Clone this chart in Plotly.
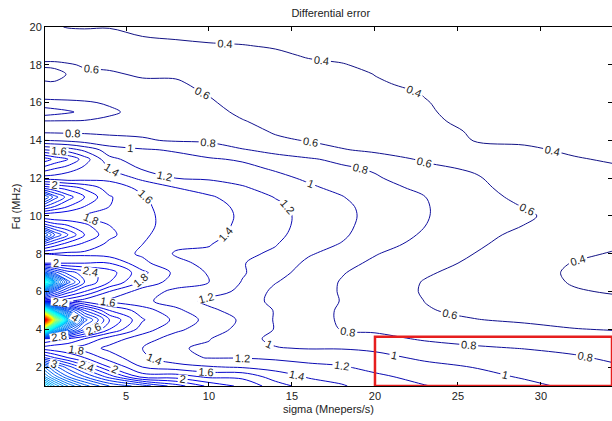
import plotly.graph_objects as go

# sigma (Mnepers/s) grid columns and Fd (MHz) grid rows
sigma = [0.1, 0.7, 1.5, 2.5, 4, 6, 8, 10, 12, 14, 16, 18, 20, 23, 26, 29, 32, 35]
fd = [1.0, 1.5, 2.0, 2.5, 3.0, 3.5, 4.0, 4.5, 5.0, 5.5, 6.0, 6.5, 7.0, 7.5, 8.0, 8.5,
      9.0, 9.5, 10.0, 10.5, 11.0, 11.5, 12.0, 12.5, 13.0, 13.5, 14.0, 14.5, 15.0,
      15.5, 16.0, 16.5, 17.0, 17.5, 18.0, 18.5, 19.0, 19.5, 20.0]

# differential error, one list per sigma column (Fd from 1 to 20)
err_s0_1 = [5.5, 4.4, 3.8, 2.6, 1.9, 2.4, 7.5, 15.0, 7.0, 2.0, 3.7, 6.8, 3.5, 2.0, 1.8, 2.5, 3.6, 2.5, 1.8, 2.6,
            3.4, 2.3, 1.5, 1.9, 2.3, 1.6, 1.0, 0.75, 0.78, 1.12, 0.86, 0.69, 0.62, 0.55, 0.62, 0.56, 0.5, 0.46, 0.42]
err_s0_7 = [4.8, 3.9, 3.3, 2.4, 1.85, 2.3, 5.0, 9.0, 4.8, 1.95, 3.0, 4.6, 3.1, 2.0, 1.78, 2.3, 3.0, 2.3, 1.8, 2.4,
            2.9, 2.2, 1.5, 1.8, 2.15, 1.55, 0.98, 0.75, 0.78, 1.08, 0.85, 0.69, 0.61, 0.57, 0.62, 0.56, 0.5, 0.45, 0.41]
err_s1_5 = [4.2, 3.4, 2.9, 2.2, 1.8, 2.2, 3.6, 5.0, 3.4, 1.85, 2.5, 3.3, 2.7, 2.0, 1.75, 2.1, 2.6, 2.2, 1.8, 2.2,
            2.5, 2.1, 1.45, 1.7, 2.0, 1.5, 0.95, 0.75, 0.78, 1.03, 0.84, 0.69, 0.62, 0.605, 0.61, 0.55, 0.49, 0.44, 0.395]
err_s2_5 = [3.7, 3.0, 2.5, 2.0, 1.7, 2.0, 2.8, 3.3, 2.6, 1.7, 2.2, 2.6, 2.5, 2.0, 1.75, 1.95, 2.2, 2.05, 1.8, 2.0,
            2.2, 1.95, 1.5, 1.55, 1.7, 1.35, 0.9, 0.76, 0.78, 0.95, 0.82, 0.7, 0.64, 0.62, 0.59, 0.54, 0.49, 0.44, 0.39]
err_s4 = [3.2, 2.5, 2.0, 1.7, 1.55, 1.7, 2.2, 2.4, 2.0, 1.55, 1.8, 2.2, 2.3, 2.0, 1.7, 1.75, 1.85, 1.8, 1.75, 1.8,
          1.82, 1.7, 1.55, 1.4, 1.25, 1.1, 0.85, 0.76, 0.76, 0.83, 0.78, 0.7, 0.66, 0.62, 0.57, 0.52, 0.47, 0.43, 0.395]
err_s6 = [2.9, 1.9, 1.6, 1.45, 1.4, 1.5, 1.7, 1.82, 1.7, 1.45, 1.5, 1.75, 1.85, 1.65, 1.57, 1.6, 1.63, 1.65, 1.65, 1.64,
          1.62, 1.55, 1.35, 1.18, 1.1, 1.02, 0.82, 0.76, 0.73, 0.74, 0.72, 0.68, 0.63, 0.58, 0.53, 0.48, 0.44, 0.4, 0.37]
err_s8 = [2.5, 1.9, 1.5, 1.25, 1.22, 1.3, 1.45, 1.55, 1.45, 1.3, 1.35, 1.5, 1.55, 1.45, 1.38, 1.44, 1.5, 1.52, 1.52, 1.5,
          1.47, 1.4, 1.2, 1.12, 1.06, 0.98, 0.78, 0.74, 0.71, 0.68, 0.66, 0.64, 0.62, 0.58, 0.52, 0.47, 0.42, 0.39, 0.37]
err_s10 = [2.15, 1.75, 1.42, 1.19, 1.17, 1.21, 1.28, 1.33, 1.24, 1.15, 1.28, 1.4, 1.38, 1.35, 1.37, 1.41, 1.44, 1.46, 1.46, 1.45,
           1.42, 1.33, 1.17, 1.08, 1.02, 0.9, 0.77, 0.72, 0.69, 0.65, 0.62, 0.59, 0.56, 0.52, 0.48, 0.44, 0.41, 0.38, 0.36]
err_s12 = [1.95, 1.75, 1.38, 1.19, 1.05, 1.06, 1.15, 1.17, 1.12, 1.08, 1.16, 1.19, 1.22, 1.21, 1.24, 1.3, 1.36, 1.37, 1.38, 1.37,
           1.33, 1.22, 1.13, 1.05, 0.98, 0.81, 0.72, 0.66, 0.61, 0.57, 0.54, 0.52, 0.5, 0.48, 0.46, 0.43, 0.405, 0.37, 0.35]
err_s14 = [1.7, 1.5, 1.33, 1.16, 1.01, 0.96, 0.99, 0.985, 0.99, 0.96, 0.95, 1.01, 1.07, 1.12, 1.17, 1.21, 1.25, 1.27, 1.27, 1.25,
           1.19, 1.12, 1.05, 0.98, 0.85, 0.76, 0.63, 0.58, 0.55, 0.52, 0.5, 0.48, 0.47, 0.46, 0.44, 0.42, 0.39, 0.37, 0.35]
err_s16 = [1.5, 1.38, 1.26, 1.12, 0.99, 0.92, 0.88, 0.87, 0.87, 0.86, 0.86, 0.88, 0.92, 0.96, 1.02, 1.07, 1.1, 1.12, 1.13, 1.12,
           1.08, 1.03, 0.97, 0.9, 0.82, 0.68, 0.59, 0.54, 0.51, 0.49, 0.47, 0.46, 0.45, 0.44, 0.42, 0.39, 0.37, 0.36, 0.34]
err_s18 = [1.42, 1.32, 1.22, 1.1, 0.99, 0.88, 0.79, 0.78, 0.78, 0.795, 0.79, 0.79, 0.81, 0.85, 0.92, 0.99, 1.03, 1.05, 1.06, 1.05,
           1.01, 0.95, 0.88, 0.83, 0.76, 0.61, 0.55, 0.51, 0.49, 0.47, 0.46, 0.45, 0.44, 0.43, 0.405, 0.38, 0.36, 0.35, 0.33]
err_s20 = [1.3, 1.24, 1.14, 1.05, 0.97, 0.85, 0.77, 0.74, 0.72, 0.71, 0.7, 0.71, 0.74, 0.77, 0.81, 0.86, 0.9, 0.92, 0.93, 0.92,
           0.89, 0.86, 0.82, 0.78, 0.67, 0.57, 0.53, 0.5, 0.48, 0.46, 0.45, 0.44, 0.41, 0.398, 0.38, 0.37, 0.36, 0.34, 0.33]
err_s23 = [1.21, 1.13, 1.05, 0.97, 0.87, 0.78, 0.72, 0.67, 0.61, 0.598, 0.585, 0.59, 0.62, 0.66, 0.7, 0.75, 0.78, 0.803, 0.815, 0.815,
           0.803, 0.76, 0.7, 0.64, 0.58, 0.52, 0.48, 0.45, 0.42, 0.41, 0.405, 0.395, 0.38, 0.37, 0.36, 0.35, 0.34, 0.33, 0.32]
err_s26 = [1.12, 1.06, 0.995, 0.92, 0.82, 0.75, 0.68, 0.605, 0.57, 0.55, 0.53, 0.52, 0.54, 0.57, 0.598, 0.63, 0.65, 0.66, 0.67, 0.67,
           0.66, 0.64, 0.62, 0.58, 0.5, 0.44, 0.395, 0.385, 0.375, 0.37, 0.36, 0.355, 0.35, 0.345, 0.34, 0.335, 0.33, 0.32, 0.31]
err_s29 = [1.05, 0.98, 0.92, 0.86, 0.795, 0.72, 0.64, 0.58, 0.54, 0.5, 0.47, 0.45, 0.44, 0.45, 0.48, 0.52, 0.56, 0.598, 0.63, 0.595,
           0.56, 0.53, 0.5, 0.47, 0.44, 0.41, 0.39, 0.37, 0.36, 0.35, 0.345, 0.34, 0.335, 0.33, 0.32, 0.315, 0.31, 0.305, 0.3]
err_s32 = [0.96, 0.92, 0.87, 0.82, 0.76, 0.69, 0.605, 0.56, 0.5, 0.44, 0.41, 0.39, 0.385, 0.395, 0.42, 0.45, 0.48, 0.5, 0.51, 0.5,
           0.48, 0.46, 0.44, 0.42, 0.405, 0.39, 0.37, 0.36, 0.35, 0.34, 0.335, 0.33, 0.325, 0.32, 0.31, 0.305, 0.3, 0.295, 0.29]
err_s35 = [0.9, 0.86, 0.81, 0.76, 0.71, 0.65, 0.59, 0.53, 0.47, 0.42, 0.385, 0.37, 0.365, 0.37, 0.385, 0.41, 0.44, 0.46, 0.47, 0.47,
           0.46, 0.44, 0.42, 0.405, 0.39, 0.37, 0.355, 0.345, 0.335, 0.33, 0.325, 0.32, 0.315, 0.31, 0.3, 0.295, 0.29, 0.285, 0.28]

columns = [err_s0_1, err_s0_7, err_s1_5, err_s2_5, err_s4, err_s6, err_s8, err_s10, err_s12, err_s14,
           err_s16, err_s18, err_s20, err_s23, err_s26, err_s29, err_s32, err_s35]
z = [list(row) for row in zip(*columns)]

x_ticks = [5, 10, 15, 20, 25, 30]
y_ticks = [2, 4, 6, 8, 10, 12, 14, 16, 18, 20]
box_sigma = [20, 34.28]
box_fd = [1.0, 3.6]

jet = [[0.0, "rgb(20,20,120)"], [0.125, "rgb(0,0,235)"], [0.375, "rgb(0,255,255)"],
       [0.625, "rgb(255,255,0)"], [0.875, "rgb(255,0,0)"], [1.0, "rgb(128,0,0)"]]

FONT = "Liberation Sans, Arial, sans-serif"

fig = go.Figure(go.Contour(
    x=sigma, y=fd, z=z,
    colorscale=jet, zmin=0.0, zmax=16.0, showscale=False,
    contours=dict(start=0.2, end=16.0, size=0.2, coloring="lines",
                  showlabels=True, labelformat=".1~f",
                  labelfont=dict(family=FONT, size=11, color="#222222")),
    line=dict(width=1),
    hoverinfo="skip",
))

fig.add_shape(type="rect", xref="x", yref="y",
              x0=box_sigma[0], x1=box_sigma[1], y0=box_fd[0], y1=box_fd[1],
              line=dict(color="rgb(230,30,30)", width=2.5))

axis_common = dict(showgrid=False, zeroline=False, showline=True, linecolor="black",
                   linewidth=1, ticks="inside", ticklen=4, tickcolor="black",
                   mirror="ticks", tickfont=dict(family=FONT, size=11, color="#222222"))

fig.update_layout(
    width=612, height=421,
    margin=dict(l=45, r=0, t=27, b=35),
    paper_bgcolor="white", plot_bgcolor="white",
    title=dict(text="Differential error", xref="paper", x=0.504, xanchor="center",
               y=1 - 13 / 421, yanchor="middle",
               font=dict(family=FONT, size=11, color="#222222")),
    xaxis=dict(range=[0.12, 34.28], tickvals=x_ticks,
               title=dict(text="sigma (Mnepers/s)", standoff=4,
                          font=dict(family=FONT, size=11, color="#222222")),
               **axis_common),
    yaxis=dict(range=[1, 20], tickvals=y_ticks,
               title=dict(text="Fd (MHz)", standoff=6,
                          font=dict(family=FONT, size=11, color="#222222")),
               **axis_common),
    showlegend=False,
)

fig.write_html("out.html")
